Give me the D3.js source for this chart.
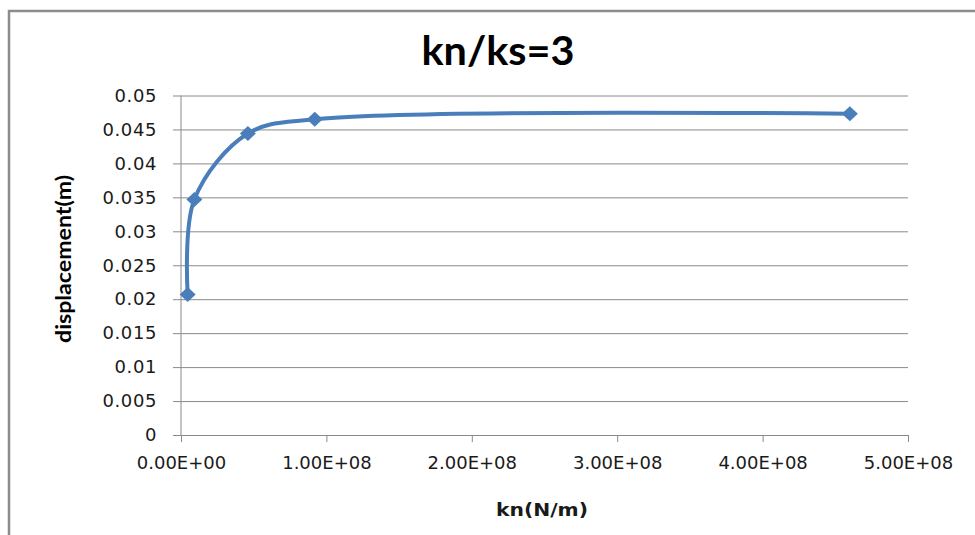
<!DOCTYPE html>
<html>
<head>
<meta charset="utf-8">
<script src="https://cdn.jsdelivr.net/npm/d3@7"></script>
<style>
  body { margin: 0; background: #fff; }
  svg { display: block; }
</style>
</head>
<body>
<svg></svg>
<script>
// data
const kn = [4.6e6, 9.2e6, 4.6e7, 9.2e7, 4.6e8]
const displacement = [0.0207, 0.0347, 0.0444, 0.0465, 0.0473]

const xTicks = [0, 1e8, 2e8, 3e8, 4e8, 5e8]
const xTickLabels = ['0.00E+00', '1.00E+08', '2.00E+08', '3.00E+08', '4.00E+08', '5.00E+08']
const yTicks = [0, 0.005, 0.01, 0.015, 0.02, 0.025, 0.03, 0.035, 0.04, 0.045, 0.05]
const yTickLabels = ['0', '0.005', '0.01', '0.015', '0.02', '0.025', '0.03', '0.035', '0.04', '0.045', '0.05']

const title = 'kn/ks=3'
const xAxisLabel = 'kn(N/m)'
const yAxisLabel = 'displacement(m)'

const w = 975
const h = 535

const svg = d3.select('svg')
  .attr('width', w)
  .attr('height', h);

// chart frame (runs off the right and bottom edges)
svg.append('rect')
  .attr('x', 9).attr('y', 11)
  .attr('width', w + 20).attr('height', h + 20)
  .attr('fill', 'none')
  .attr('stroke', '#8c8c8c')
  .attr('stroke-width', 2.5);

const margin = {top: 95.5, right: 67, bottom: 100, left: 181};
const innerWidth = w - margin.left - margin.right;
const innerHeight = h - margin.top - margin.bottom;

const xScale = d3.scaleLinear()
  .domain([0, 5e8])
  .range([0, innerWidth]);

const yScale = d3.scaleLinear()
  .domain([0, 0.05])
  .range([innerHeight, 0]);

const g = svg.append('g')
  .attr('transform', `translate(${margin.left}, ${margin.top})`);

const gridColor = '#8a8a8a'
const tickFont = '"DejaVu Sans", Verdana, sans-serif'

// y axis with gridlines
const yAxis = d3.axisLeft(yScale)
  .tickValues(yTicks)
  .tickFormat((d, i) => yTickLabels[i])
  .tickSizeInner(-innerWidth)
  .tickSizeOuter(0)
  .tickPadding(24);

const yAxisG = g.append('g').call(yAxis);
yAxisG.selectAll('.tick line')
  .attr('x1', -8)
  .attr('stroke', gridColor);
yAxisG.select('.domain').remove();
yAxisG.selectAll('text')
  .attr('font-family', tickFont)
  .attr('font-size', 18)
  .attr('fill', '#1a1a1a')
  .attr('letter-spacing', 0.6);

// vertical axis line
g.append('line')
  .attr('x1', 0).attr('x2', 0)
  .attr('y1', 0).attr('y2', innerHeight)
  .attr('stroke', gridColor);

const xAxis = d3.axisBottom(xScale)
  .tickValues(xTicks)
  .tickFormat((d, i) => xTickLabels[i])
  .tickSizeInner(7)
  .tickSizeOuter(0)
  .tickPadding(14);

const xAxisG = g.append('g').call(xAxis)
  .attr('transform', `translate(0, ${innerHeight})`);
xAxisG.select('.domain').attr('stroke', gridColor);
xAxisG.selectAll('.tick line').attr('stroke', gridColor);
xAxisG.selectAll('text')
  .attr('font-family', tickFont)
  .attr('font-size', 18)
  .attr('fill', '#1a1a1a');

// the smoothed series
const points = kn.map((d, i) => [xScale(d), yScale(displacement[i])]);

const line = d3.line()
  .curve(d3.curveCatmullRom.alpha(0.5));

g.append('path')
  .attr('d', line(points))
  .attr('fill', 'none')
  .attr('stroke', '#4a7ebb')
  .attr('stroke-width', 4)
  .attr('stroke-linejoin', 'round');

const diamond = 'M0,-7.5L8,0L0,7.5L-8,0Z'
g.selectAll('.marker').data(points)
  .enter().append('path')
  .attr('class', 'marker')
  .attr('d', diamond)
  .attr('transform', d => `translate(${d[0]}, ${d[1]})`)
  .attr('fill', '#4a7ebb');

// labels
svg.append('text')
  .attr('x', 498)
  .attr('y', 65)
  .attr('text-anchor', 'middle')
  .attr('font-family', 'Lato, "Open Sans", sans-serif')
  .attr('font-weight', 'bold')
  .attr('font-size', 40)
  .attr('textLength', 153)
  .attr('lengthAdjust', 'spacingAndGlyphs')
  .attr('fill', '#000')
  .text(title);

svg.append('text')
  .attr('transform', 'translate(71, 259) rotate(-90)')
  .attr('text-anchor', 'middle')
  .attr('font-family', 'Lato, "Open Sans", sans-serif')
  .attr('font-weight', 'bold')
  .attr('font-size', 21)
  .attr('textLength', 168)
  .attr('lengthAdjust', 'spacingAndGlyphs')
  .attr('fill', '#000')
  .text(yAxisLabel);

svg.append('text')
  .attr('x', 542)
  .attr('y', 516)
  .attr('text-anchor', 'middle')
  .attr('font-family', tickFont)
  .attr('font-weight', 'bold')
  .attr('font-size', 17)
  .attr('textLength', 92)
  .attr('lengthAdjust', 'spacingAndGlyphs')
  .attr('fill', '#1a1a1a')
  .text(xAxisLabel);
</script>
</body>
</html>
